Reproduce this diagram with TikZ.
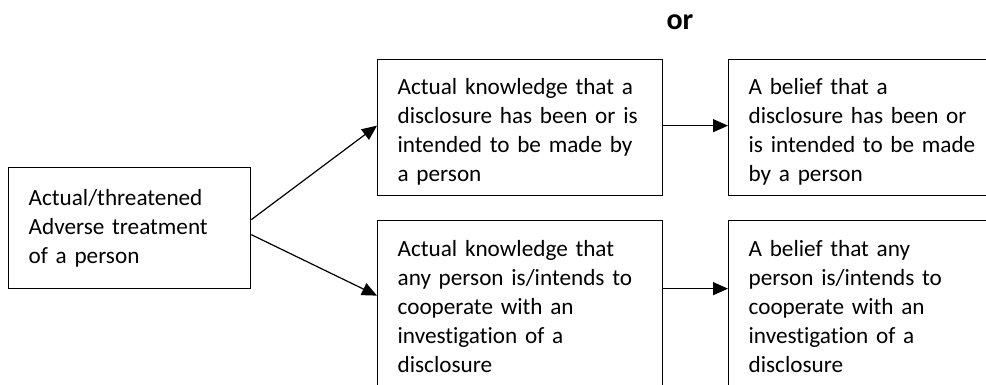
\documentclass[tikz,border=0pt]{standalone}
\usepackage{fontspec}
\setmainfont{Carlito}[Ligatures=NoCommon]
\usetikzlibrary{arrows.meta}

\begin{document}
\begin{tikzpicture}[x=0.5pt,y=-0.5pt,>={Triangle[length=7.5pt,width=6.5pt]},
  box/.style={draw,line width=0.65pt,anchor=north west,align=left,inner xsep=10pt,
    font=\fontsize{11.6}{14.5}\selectfont},
  arr/.style={->,line width=0.6pt}]
  \useasboundingbox (0,0) rectangle (986,385);
  \clip (0,0) rectangle (986,385);
  \node[box,text width=101pt,minimum height=60.5pt] (act) at (8,167)
    {Actual/threatened\\Adverse treatment\\of a person};
  \node[box,text width=122.5pt,minimum height=68pt] (know1) at (377,59)
    {\rule{0pt}{12.6pt}Actual knowledge that a\\disclosure has been or is\\intended to be made by\\a person};
  \node[box,text width=130pt,minimum height=68pt] (belief1) at (728,59)
    {\rule{0pt}{12.6pt}A belief that a\\disclosure has been or\\is intended to be made\\by a person};
  \node[box,text width=122.5pt,minimum height=86pt] (know2) at (377,220)
    {Actual knowledge that\\any person is/intends to\\cooperate with an\\investigation of a\\disclosure};
  \node[box,text width=130pt,minimum height=86pt] (belief2) at (728,220)
    {A belief that any\\person is/intends to\\cooperate with an\\investigation of a\\disclosure};
  \node[font=\fontsize{15}{18}\bfseries] (or) at (680,22) {or};
  % connectors
  \draw[arr] ([yshift=4.25pt]act.east) -- ([yshift=1pt]know1.west);
  \draw[arr] ([yshift=-3.25pt]act.east) -- ([yshift=5.5pt]know2.west);
  \draw[arr] ([yshift=1pt]know1.east) -- ([yshift=1pt]belief1.west);
  \draw[arr] ([yshift=9pt]know2.east) -- ([yshift=9pt]belief2.west);
\end{tikzpicture}
\end{document}
